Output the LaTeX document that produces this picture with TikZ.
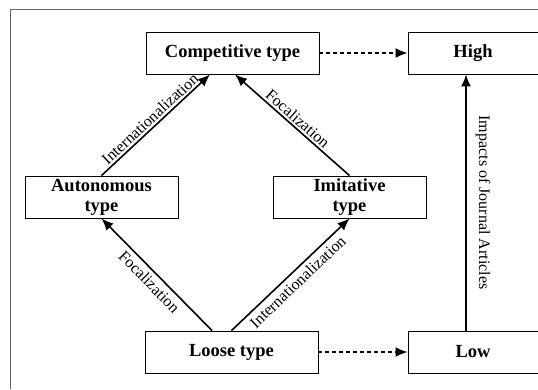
\documentclass[tikz,border=0pt]{standalone}
\usepackage{fontspec}
\setmainfont{Liberation Serif}
\usetikzlibrary{arrows.meta}
\begin{document}
\begin{tikzpicture}[x=1pt,y=-1pt,
	box/.style={draw, line width=0.9pt, inner sep=0pt, minimum height=42pt, align=center, font=\fontsize{18.5}{20}\selectfont\bfseries},
	link/.style={line width=1.6pt, -{Latex[length=12pt,width=10pt]}},
	dlink/.style={link, dash pattern=on 4pt off 3pt},
	lab/.style={font=\fontsize{16}{18}\selectfont, sloped, midway, inner sep=2pt}]
	\useasboundingbox (0,0) rectangle (538,389);
	\draw[black!60, line width=1pt] (10,389) -- (10,9) -- (538,9);

	\node[box, minimum width=173pt] (comp) at (232.5,53) {Competitive type};
	\node[box, minimum width=130pt] (high) at (473,53) {High};
	\node[box, minimum width=153pt] (auto) at (101.5,197) {Autonomous\\type};
	\node[box, minimum width=153pt] (imit) at (349.5,197) {Imitative\\type};
	\node[box, minimum width=173pt] (loose) at (231.5,352) {Loose type};
	\node[box, minimum width=130pt] (low) at (473,352) {Low};

	% types
	\draw[link] (auto.north) -- ([xshift=-22.5pt]comp.south) node[lab, above] {Internationalization};
	\draw[link] (imit.north) -- ([xshift=2.5pt]comp.south) node[lab, above] {Focalization};
	\draw[link] ([xshift=-19.5pt]loose.north) -- (auto.south) node[lab, below, inner sep=4pt] {Focalization};
	\draw[link] (loose.north) -- (imit.south) node[lab, below, inner sep=4pt] {Internationalization};

	% impacts
	\draw[dlink] (comp) -- (high);
	\draw[dlink] (loose) -- (low);
	\draw[link] ([xshift=-7pt]low.north) -- ([xshift=-7pt]high.south) node[midway, rotate=-90, anchor=south, inner sep=9pt, font=\fontsize{16}{18}\selectfont] {Impacts of Journal Articles};
\end{tikzpicture}
\end{document}
